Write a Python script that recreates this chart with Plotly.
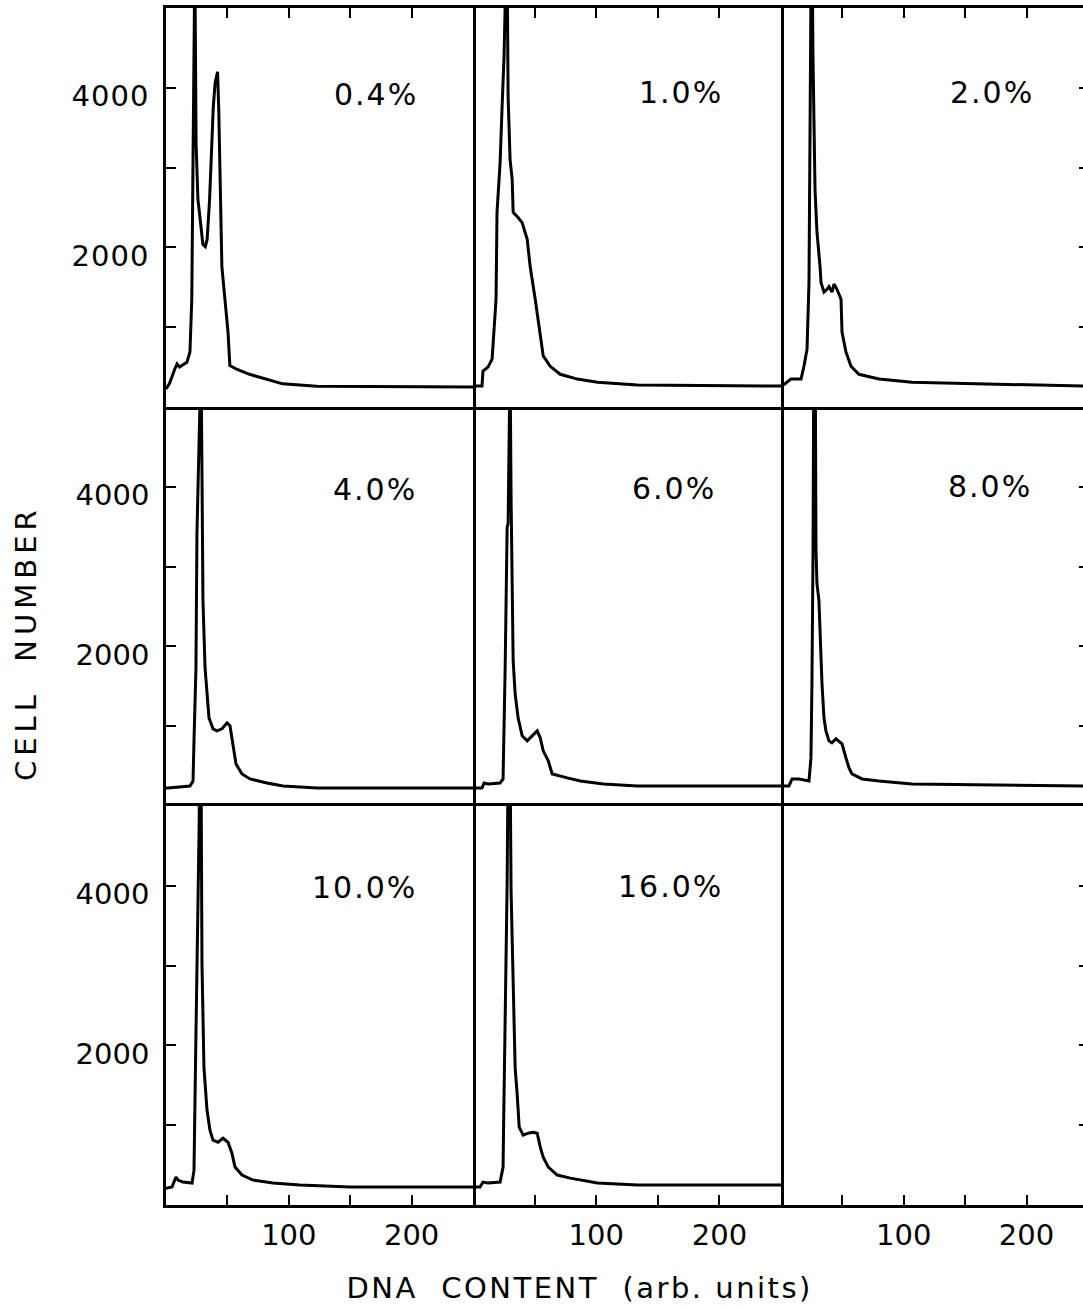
import plotly.graph_objects as go
from plotly.subplots import make_subplots

# ---------------- data ----------------
panel_labels = ["0.4%", "1.0%", "2.0%", "4.0%", "6.0%", "8.0%", "10.0%", "16.0%"]

dna_04 = [0, 3, 7, 9, 11, 17, 19.5, 21, 22, 22.5, 23.5, 24.5, 26, 27.5, 30, 32, 33.5, 35.5, 37.5, 38.5, 40, 42, 43, 44, 45.5, 48, 50.5, 52, 58, 68, 82, 95, 123, 250]
cells_04 = [225, 300, 470, 540, 500, 560, 690, 1350, 3100, 5600, 5600, 3300, 2600, 2400, 2040, 2010, 2100, 2600, 3350, 3760, 4060, 4200, 3700, 2760, 1760, 1350, 940, 520, 470, 410, 350, 290, 260, 250]

dna_10 = [0, 7.3, 8.1, 12.2, 15.5, 17.1, 18.7, 19.5, 22, 23.6, 25.2, 26.9, 27.7, 28.5, 30.1, 31.8, 32.6, 36.6, 39.9, 44, 46.4, 50.5, 54.6, 57, 62.7, 70.8, 84.7, 101, 133.5, 250]
cells_10 = [262, 262, 450, 500, 600, 940, 1350, 2440, 3060, 3760, 4390, 5600, 5600, 3890, 3100, 2850, 2440, 2375, 2310, 2100, 1760, 1350, 940, 640, 510, 410, 350, 310, 275, 262]

dna_20 = [0, 0.8, 8.1, 16.3, 18.7, 21.2, 22.8, 23.6, 24.2, 24.6, 25.4, 26.1, 27.7, 29.3, 31.8, 32.6, 35, 37.5, 39.1, 41.5, 43.2, 45.6, 48.9, 49.7, 52.9, 57, 63.5, 79.8, 106.7, 246]
cells_20 = [262, 262, 350, 350, 510, 725, 1560, 3010, 4350, 5600, 5600, 4350, 2725, 2190, 1760, 1560, 1440, 1475, 1510, 1440, 1540, 1475, 1350, 940, 690, 510, 410, 350, 310, 262]

dna_40 = [0, 1.6, 19.5, 22, 22.8, 24.4, 25.2, 26.1, 26.9, 27.7, 28.5, 29.3, 30.1, 31.8, 33.4, 35, 38.3, 41.5, 45.6, 49.7, 52.1, 54.6, 57, 61.9, 68.4, 82.2, 95.3, 123, 250]
cells_40 = [226, 226, 251, 314, 816, 1733, 3416, 4170, 4961, 5600, 5600, 4170, 2575, 1733, 1407, 1105, 967, 942, 967, 1042, 1005, 728, 527, 402, 339, 289, 251, 226, 226]

dna_60 = [0, 7.3, 9, 12.2, 22, 24.4, 26.1, 27.7, 28.5, 29.3, 30.1, 30.9, 31.8, 32.6, 34.2, 36.6, 39.9, 44, 46.4, 49.7, 52.1, 54.6, 57, 61.1, 64.3, 76.5, 87.1, 105.9, 133.5, 250]
cells_60 = [226, 226, 289, 276, 289, 339, 1733, 3492, 3542, 5600, 5600, 3869, 2914, 1821, 1407, 1105, 879, 816, 854, 904, 942, 854, 691, 565, 402, 352, 314, 276, 251, 251]

dna_80 = [0, 0.8, 6.5, 9, 14.7, 22.8, 24.4, 25.2, 26.1, 26.7, 27.9, 28.5, 29.3, 30.9, 32.6, 33.4, 35, 36.6, 39.1, 41.5, 44.8, 47.2, 49.7, 52.9, 55.4, 57.8, 66, 79.8, 106.7, 246]
cells_80 = [251, 251, 251, 339, 339, 314, 603, 1532, 3203, 5600, 5600, 3203, 2788, 2575, 1733, 1532, 1105, 942, 816, 791, 841, 816, 779, 603, 477, 402, 339, 314, 276, 251]

dna_100 = [0, 0.8, 4.9, 8.1, 9.8, 13.8, 21.2, 22.8, 24.4, 26.1, 26.9, 27.5, 28.5, 29.3, 30.9, 33.4, 35.8, 38.3, 42.3, 46.4, 50.5, 53.7, 56.2, 61.9, 70.8, 87.1, 109, 150, 250]
cells_100 = [200, 212, 225, 350, 312, 287, 275, 437, 2150, 3562, 4650, 5600, 5600, 3025, 1725, 1187, 937, 812, 787, 837, 787, 650, 475, 375, 312, 275, 250, 225, 225]

dna_160 = [0, 5.7, 8.1, 12.2, 22, 24.4, 24.9, 26.1, 27.7, 28.5, 30.1, 30.9, 32.6, 34.2, 35.8, 37.5, 40.7, 44.8, 48.9, 52.1, 54.6, 57, 61.1, 68.4, 79, 101, 133.5, 250]
cells_160 = [225, 225, 287, 275, 287, 475, 1062, 2400, 4025, 5600, 5600, 3937, 2975, 1725, 1400, 975, 875, 900, 912, 900, 725, 600, 475, 375, 337, 275, 250, 250]

x_tick_vals = [50, 100, 150, 200]
x_tick_text = ["", "100", "", "200"]
y_tick_vals = [1000, 2000, 3000, 4000]
y_tick_text = ["", "2000", "", "4000"]

series_x = [dna_04, dna_10, dna_20, dna_40, dna_60, dna_80, dna_100, dna_160]
series_y = [cells_04, cells_10, cells_20, cells_40, cells_60, cells_80, cells_100, cells_160]

# ---------------- layout / positions ----------------
cells_grid = [(1, 1), (1, 2), (1, 3), (2, 1), (2, 2), (2, 3), (3, 1), (3, 2)]
label_pos = [(171, 3910), (169, 3937), (172, 3937), (170, 3969),
             (163, 3980), (170, 4006), (162, 3975), (160, 3987)]

FONT = "DejaVu Sans"
W, H = 1083, 1307
ML, MR, MT, MB = 166, 0, 8, 102
PW = W - ML - MR
PH = H - MT - MB
col_dom = [[0, 307 / PW], [307 / PW, 615 / PW], [615 / PW, 1]]
row_dom = [[2 / 3, 1], [1 / 3, 2 / 3], [0, 1 / 3]]
col_rng = [[0, 250], [0, 250], [0, 246]]
LW = 2.6

fig = make_subplots(rows=3, cols=3, horizontal_spacing=0, vertical_spacing=0)

for i, (r, c) in enumerate(cells_grid):
    fig.add_trace(go.Scatter(x=series_x[i], y=series_y[i], mode="lines",
                             line=dict(color="black", width=3),
                             showlegend=False, hoverinfo="skip"),
                  row=r, col=c)
    idx = (r - 1) * 3 + c
    fig.add_annotation(x=label_pos[i][0], y=label_pos[i][1], text=panel_labels[i],
                       showarrow=False, font=dict(family=FONT, size=30, color="black"),
                       xref=f"x{'' if idx == 1 else idx}",
                       yref=f"y{'' if idx == 1 else idx}")

# the empty ninth panel still needs its axes drawn
fig.add_trace(go.Scatter(x=[], y=[], mode="lines", showlegend=False, hoverinfo="skip"),
              row=3, col=3)

for r in range(1, 4):
    for c in range(1, 4):
        xa = dict(domain=col_dom[c - 1], range=col_rng[c - 1], showline=False, mirror=False,
                  linecolor="black", linewidth=LW, showgrid=False, zeroline=False,
                  tickvals=x_tick_vals, ticktext=x_tick_text, tickcolor="black",
                  tickwidth=2, ticklen=10, ticks="", showticklabels=False,
                  tickfont=dict(family=FONT, size=29, color="black"), fixedrange=True)
        if r == 1:
            xa.update(side="top", ticks="inside", showline=True, mirror=True)
        elif r == 3:
            xa.update(side="bottom", ticks="inside", showticklabels=True,
                      ticklabelstandoff=2, showline=True, mirror=True)
        fig.update_xaxes(row=r, col=c, **xa)

        ya = dict(domain=row_dom[r - 1], range=[0, 5000], showline=False, mirror=False,
                  linecolor="black", linewidth=LW, showgrid=False, zeroline=False,
                  tickvals=y_tick_vals, ticktext=y_tick_text, tickcolor="black",
                  tickwidth=2, ticklen=10, ticks="", showticklabels=False,
                  tickfont=dict(family=FONT, size=29, color="black"), fixedrange=True)
        if c == 1:
            ya.update(side="left", ticks="inside", showticklabels=True, showline=True,
                      mirror=True, ticklabelstandoff=8, ticklabelshift=8)
        elif c == 2:
            ya.update(side="right", showline=True, mirror=False)
        else:
            ya.update(side="right", ticks="inside", ticklen=4)
        fig.update_yaxes(row=r, col=c, **ya)

fig.add_annotation(x=(26 - ML) / PW, y=(1205 - 643) / PH, xref="paper", yref="paper",
                   text="CELL  NUMBER", textangle=-90, showarrow=False,
                   xanchor="center", yanchor="middle",
                   font=dict(family=FONT, size=29, color="black"))
fig.add_annotation(x=(579 - ML) / PW, y=(1205 - 1288) / PH, xref="paper", yref="paper",
                   text="DNA  CONTENT  (arb. units)", showarrow=False,
                   xanchor="center", yanchor="middle",
                   font=dict(family=FONT, size=29, color="black"))

fig.update_layout(width=W, height=H, margin=dict(l=ML, r=MR, t=MT, b=MB),
                  paper_bgcolor="white", plot_bgcolor="white",
                  font=dict(family=FONT, color="black"))

post_js = """
document.body.style.margin = '0';
document.body.style.overflow = 'hidden';
var gd = document.getElementById('{plot_id}');
function spaceText() {
  gd.querySelectorAll('text.annotation-text').forEach(function (t) {
    var s = t.textContent;
    if (s.indexOf('CELL') === 0) { t.style.letterSpacing = '5px'; }
    else if (s.indexOf('DNA') === 0) { t.style.letterSpacing = '2.5px'; }
    else { t.style.letterSpacing = '2px'; }
  });
  gd.querySelectorAll('g.xtick text, g.ytick text').forEach(function (t) {
    t.style.letterSpacing = '1px';
  });
}
spaceText();
"""

fig.write_html("out.html", config={"displayModeBar": False}, post_script=post_js)
